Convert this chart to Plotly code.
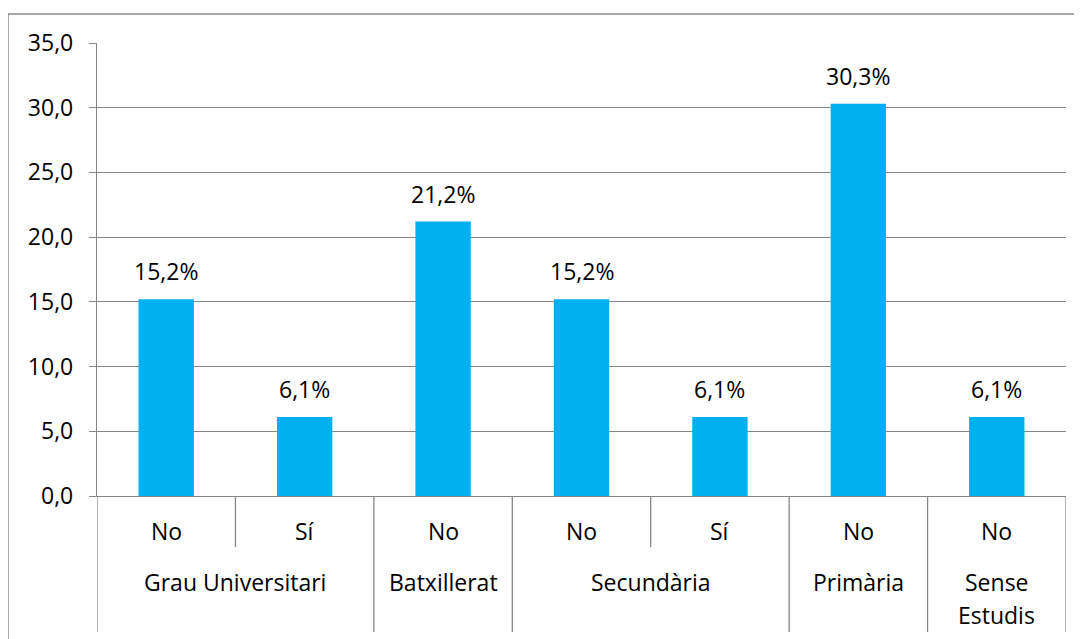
import plotly.graph_objects as go

groups = ["Grau Universitari", "Grau Universitari", "Batxillerat", "Secundària", "Secundària", "Primària", "Sense Estudis"]
subs = ["No", "Sí", "No", "No", "Sí", "No", "No"]
values = [15.2, 6.1, 21.2, 15.2, 6.1, 30.3, 6.1]
y_ticks = [0, 5, 10, 15, 20, 25, 30, 35]

FONT = "Open Sans"
FS = 23
GRID = "#868686"
OFF = 8  # page body margin offset
W, H = 1082 - OFF, 639 - OFF
L, T = 97 - OFF, 43 - OFF
R = W - (1066 - OFF)
B = H - (496 - OFF)
pw, ph = W - L - R, H - T - B

def px_to_paper_y(py):
    return ((496 - OFF) - (py - OFF)) / ph

def px_to_paper_x(px):
    return ((px - OFF) - L) / pw

xs = list(range(len(values)))
fig = go.Figure()
fig.add_trace(go.Bar(x=xs, y=values, width=0.4, marker=dict(color="#00B0F0", line=dict(width=0)),
                     hoverinfo="skip"))

annotations = []
for x, v in zip(xs, values):
    annotations.append(dict(x=x, y=v, xref="x", yref="y", text=(f"{v:.1f}%").replace(".", ","),
                            showarrow=False, yanchor="bottom", yshift=10,
                            font=dict(family=FONT, size=FS, color="black")))

shapes = []
n = len(values)
for i in range(n + 1):
    if i == 0 or i == n or groups[i] != groups[i - 1]:
        y1 = px_to_paper_y(632)
    else:
        y1 = px_to_paper_y(547)
    shapes.append(dict(type="line", xref="x", yref="paper", x0=i - 0.5, x1=i - 0.5, y0=0, y1=y1,
                       line=dict(color=GRID, width=1.3)))

start = 0
for i in range(1, n + 1):
    if i == n or groups[i] != groups[i - 1]:
        center = (start + i - 1) / 2
        name = groups[start]
        if name == "Sense Estudis":
            for k, w in enumerate(name.split(" ")):
                annotations.append(dict(x=center, y=px_to_paper_y(582 + 33 * k), xref="x", yref="paper",
                                        text=w, showarrow=False, yanchor="middle",
                                        font=dict(family=FONT, size=FS, color="black")))
        else:
            annotations.append(dict(x=center, y=px_to_paper_y(582), xref="x", yref="paper",
                                    text=name, showarrow=False, yanchor="middle",
                                    font=dict(family=FONT, size=FS, color="black")))
        start = i

for x, s in zip(xs, subs):
    annotations.append(dict(x=x, y=px_to_paper_y(531), xref="x", yref="paper", text=s, showarrow=False,
                            yanchor="middle", font=dict(family=FONT, size=FS, color="black")))

shapes.append(dict(type="rect", xref="paper", yref="paper",
                   x0=px_to_paper_x(8), x1=px_to_paper_x(1100),
                   y0=px_to_paper_y(660), y1=px_to_paper_y(14),
                   line=dict(color="#8c8c8c", width=1.5), fillcolor="rgba(0,0,0,0)"))

fig.update_layout(
    width=W, height=H,
    margin=dict(l=L, r=R, t=T, b=B, autoexpand=False),
    paper_bgcolor="white", plot_bgcolor="white",
    separators=",.",
    showlegend=False,
    annotations=annotations,
    shapes=shapes,
    font=dict(family=FONT, size=FS, color="black"),
)
fig.update_xaxes(range=[-0.5, n - 0.5], showticklabels=False, ticks="", showgrid=False,
                 showline=True, linecolor=GRID, linewidth=1.3, zeroline=False, fixedrange=True)
fig.update_yaxes(range=[0, 35], tickvals=y_ticks, tickformat=".1f", showgrid=True, gridcolor=GRID,
                 gridwidth=1.3, showline=True, linecolor=GRID, linewidth=1.3, ticks="outside",
                 ticklen=7, tickcolor=GRID, tickwidth=1.3, zeroline=False, ticklabelstandoff=11,
                 tickfont=dict(family=FONT, size=FS, color="black"))

fig.write_html("out.html")
